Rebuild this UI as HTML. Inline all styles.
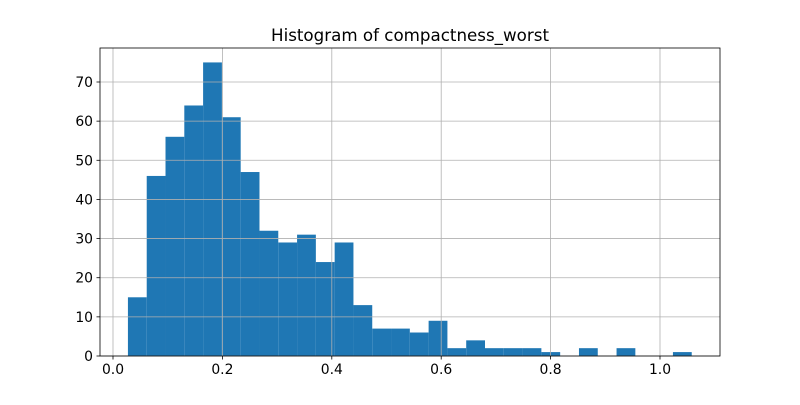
<!DOCTYPE html>
<html><head><meta charset="utf-8"><style>
body{margin:0;background:#fff;}
svg text{font-family:"DejaVu Sans","Liberation Sans",sans-serif;fill:#000;}
</style></head><body>
<svg id="chart" width="800" height="400" xmlns="http://www.w3.org/2000/svg">
<rect width="800" height="400" fill="#fff"/>
<text x="410" y="41" font-size="16.7" text-anchor="middle">Histogram of compactness_worst</text>
<g id="bars"></g>
<g id="grid"></g>
<g id="axes"></g>
</svg>
<script>
const counts=[15,46,56,64,75,61,47,32,29,31,24,29,13,7,7,6,9,2,4,2,2,2,1,0,2,0,2,0,0,1];
const binStart=0.02729;
const binEnd=1.058;
const xTicks=[0.0,0.2,0.4,0.6,0.8,1.0];
const xTickLabels=["0.0","0.2","0.4","0.6","0.8","1.0"];
const yTicks=[0,10,20,30,40,50,60,70];
const NS="http://www.w3.org/2000/svg";
const L=100,R=720,T=48,B=356;
const xs=v=>113+v*547;
const ys=v=>356-v*(274/70);
function mk(tag,attrs,parent){const e=document.createElementNS(NS,tag);for(const k in attrs)e.setAttribute(k,attrs[k]);parent.appendChild(e);return e;}
const bars=document.getElementById('bars'),grid=document.getElementById('grid'),axes=document.getElementById('axes');
const w=(binEnd-binStart)/counts.length;
counts.forEach((c,i)=>{
 if(c<=0)return;
 const x0=xs(binStart+i*w),x1=xs(binStart+(i+1)*w);
 const r=mk('rect',{x:x0,y:ys(c),width:x1-x0,height:ys(0)-ys(c),fill:'#1f77b4'},bars);
 
 
});
xTicks.forEach((v,i)=>{
 const x=xs(v);
 const g=mk('line',{x1:x,x2:x,y1:T,y2:B,stroke:'#b0b0b0','stroke-width':0.8},grid);
 
 
 mk('line',{x1:x,x2:x,y1:B,y2:B+3.5,stroke:'#000','stroke-width':0.8},axes);
 const t=mk('text',{x:x,y:B+18,'font-size':13.9,'text-anchor':'middle'},axes);
 t.textContent=xTickLabels[i];
 
 
});
yTicks.forEach(v=>{
 const y=ys(v);
 const g=mk('line',{x1:L,x2:R,y1:y,y2:y,stroke:'#b0b0b0','stroke-width':0.8},grid);
 
 
 mk('line',{x1:L-3.5,x2:L,y1:y,y2:y,stroke:'#000','stroke-width':0.8},axes);
 const t=mk('text',{x:L-7,y:y+5,'font-size':13.9,'text-anchor':'end'},axes);
 t.textContent=String(v);
 
 
});
const f=mk('rect',{x:L,y:T,width:R-L,height:B-T,fill:'none',stroke:'#000','stroke-width':0.8},axes);


</script>
</body></html>
